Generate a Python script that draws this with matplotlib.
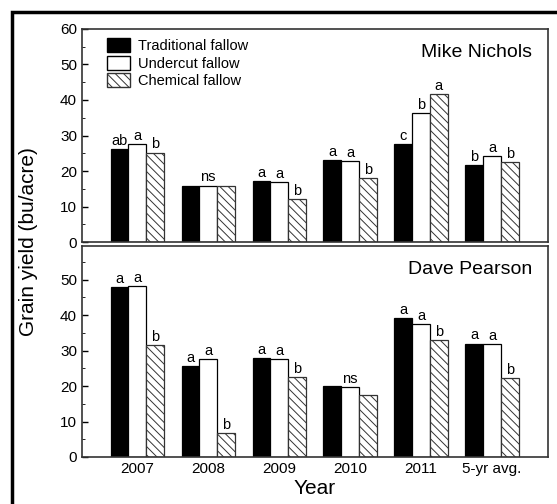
import numpy as np
import matplotlib
matplotlib.use("Agg")
import matplotlib.pyplot as plt
from matplotlib.patches import Rectangle, Patch

plt.rcParams['font.family'] = ['Liberation Sans', 'DejaVu Sans']
plt.rcParams['hatch.linewidth'] = 0.7

years = ['2007', '2008', '2009', '2010', '2011', '5-yr avg.']
treatments = ['Traditional fallow', 'Undercut fallow', 'Chemical fallow']

# Mike Nichols
mike_trad = [26.3, 15.7, 17.3, 23.2, 27.5, 21.8]
mike_under = [27.7, 15.9, 17.0, 22.9, 36.2, 24.1]
mike_chem = [25.2, 15.8, 12.2, 17.9, 41.6, 22.4]
mike_letters = [['ab', 'a', 'b'], ['', 'ns', ''], ['a', 'a', 'b'],
                ['a', 'a', 'b'], ['c', 'b', 'a'], ['b', 'a', 'b']]

# Dave Pearson
dave_trad = [47.9, 25.6, 27.8, 19.9, 39.3, 32.0]
dave_under = [48.1, 27.5, 27.5, 19.8, 37.4, 31.8]
dave_chem = [31.7, 6.7, 22.5, 17.4, 33.1, 22.3]
dave_letters = [['a', 'a', 'b'], ['a', 'a', 'b'], ['a', 'a', 'b'],
                ['', 'ns', ''], ['a', 'a', 'b'], ['a', 'a', 'b']]

fig = plt.figure(figsize=(5.57, 5.04), dpi=100)
ax1 = fig.add_axes([0.147, 0.5198, 0.837, 0.4227])
ax2 = fig.add_axes([0.147, 0.0933, 0.837, 0.4186])

x = np.arange(len(years))
w = 0.25
styles = [dict(color='black', edgecolor='black'),
          dict(color='white', edgecolor='black'),
          dict(color='white', edgecolor='#333333', hatch='\\\\\\\\')]


def draw(ax, series, letters, name, ymax):
    for i, (vals, st) in enumerate(zip(series, styles)):
        ax.bar(x + (i - 1) * w, vals, w, linewidth=0.9, **st)
        for j, v in enumerate(vals):
            if letters[j][i]:
                ax.text(x[j] + (i - 1) * w, v + 0.3, letters[j][i],
                        ha='center', va='bottom', fontsize=10.5)
    ax.set_xlim(-0.78, 5.79)
    ax.set_ylim(0, ymax)
    ax.set_yticks(np.arange(0, ymax + 0.1, 10) if ymax >= 60 else np.arange(0, 51, 10))
    ax.set_yticks(np.arange(5, ymax, 10), minor=True)
    ax.tick_params(axis='y', direction='in', length=4, labelsize=11, width=1)
    ax.tick_params(axis='y', which='minor', direction='in', length=2)
    ax.tick_params(axis='x', length=0)
    for s in ax.spines.values():
        s.set_linewidth(1.2)
        s.set_color('#333333')
    ax.text(0.965, 0.93, name, transform=ax.transAxes, ha='right', va='top',
            fontsize=14)


draw(ax1, [mike_trad, mike_under, mike_chem], mike_letters, 'Mike Nichols', 60)
draw(ax2, [dave_trad, dave_under, dave_chem], dave_letters, 'Dave Pearson', 59.5)

ax1.set_xticks(x)
ax1.set_xticklabels([])
ax2.set_xticks(x)
ax2.set_xticklabels(years, fontsize=11)
ax2.set_xlabel('Year', fontsize=15, labelpad=2)

handles = [Patch(facecolor='black', edgecolor='black'),
           Patch(facecolor='white', edgecolor='black'),
           Patch(facecolor='white', edgecolor='#333333', hatch='\\\\\\\\')]
ax1.legend(handles, treatments, loc='upper left', bbox_to_anchor=(0.035, 1.0),
           frameon=False, fontsize=10.5, handlelength=1.6, handleheight=1.1,
           handletextpad=0.5, labelspacing=0.2, borderaxespad=0.2)

fig.text(0.052, 0.52, 'Grain yield (bu/acre)', rotation=90, ha='center',
         va='center', fontsize=15)

fig.patches.append(Rectangle((0.0215, -0.05), 1.05, 0.976 + 0.05,
                             transform=fig.transFigure, fill=False,
                             edgecolor='black', linewidth=2.5))

fig.savefig('out.png', dpi=100)
